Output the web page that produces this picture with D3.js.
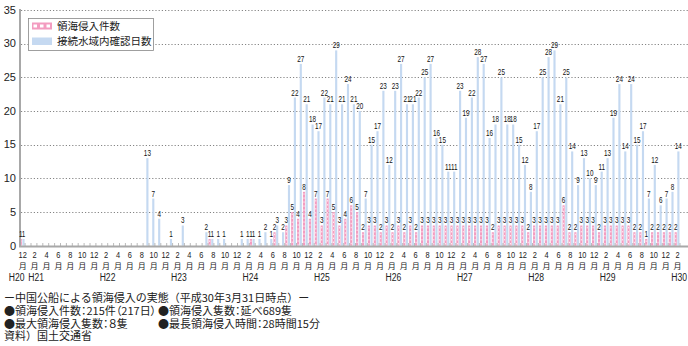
<!DOCTYPE html>
<html><head><meta charset="utf-8">
<script src="https://cdn.jsdelivr.net/npm/d3@7"></script>
<style>
body{margin:0;background:#fff;}
svg{display:block;}
.palt{font-feature-settings:"palt" 1;}
</style></head><body>
<svg id="c" width="688" height="346"></svg>
<script>
// Months Dec 2008 (H20) .. Mar 2018 (H30)
const categories = [
"2008-12",
"2009-01","2009-02","2009-03","2009-04","2009-05","2009-06","2009-07","2009-08","2009-09","2009-10","2009-11","2009-12",
"2010-01","2010-02","2010-03","2010-04","2010-05","2010-06","2010-07","2010-08","2010-09","2010-10","2010-11","2010-12",
"2011-01","2011-02","2011-03","2011-04","2011-05","2011-06","2011-07","2011-08","2011-09","2011-10","2011-11","2011-12",
"2012-01","2012-02","2012-03","2012-04","2012-05","2012-06","2012-07","2012-08","2012-09","2012-10","2012-11","2012-12",
"2013-01","2013-02","2013-03","2013-04","2013-05","2013-06","2013-07","2013-08","2013-09","2013-10","2013-11","2013-12",
"2014-01","2014-02","2014-03","2014-04","2014-05","2014-06","2014-07","2014-08","2014-09","2014-10","2014-11","2014-12",
"2015-01","2015-02","2015-03","2015-04","2015-05","2015-06","2015-07","2015-08","2015-09","2015-10","2015-11","2015-12",
"2016-01","2016-02","2016-03","2016-04","2016-05","2016-06","2016-07","2016-08","2016-09","2016-10","2016-11","2016-12",
"2017-01","2017-02","2017-03","2017-04","2017-05","2017-06","2017-07","2017-08","2017-09","2017-10","2017-11","2017-12",
"2018-01","2018-02","2018-03"];

// 領海侵入件数
const intrusions = [
1,
0,0,0,0,0,0,0,0,0,0,0,0,
0,0,0,0,0,0,0,0,0,0,0,0,
0,0,0,0,0,0,0,1,0,0,0,0,
0,0,1,0,0,0,2,0,3,5,4,8,
4,7,3,7,5,3,4,6,5,2,3,3,
2,3,2,3,2,3,2,3,3,3,3,3,
3,3,3,3,3,3,3,2,3,3,3,3,
3,2,3,3,3,3,3,6,2,2,3,3,
3,2,3,3,3,3,3,2,2,1,2,2,
2,2,2];

// 接続水域内確認日数
const contiguous = [
1,
0,0,0,0,0,0,0,0,0,0,0,0,
0,0,0,0,0,0,0,0,13,7,4,0,
1,0,3,0,0,0,2,1,1,1,0,0,
1,1,1,1,2,1,3,2,9,22,27,21,
18,17,22,21,29,21,24,21,20,7,15,17,
23,12,23,27,21,21,22,25,27,16,15,11,
11,23,19,22,28,27,16,18,25,18,18,15,
12,8,17,25,28,29,21,25,14,9,13,10,
9,11,13,19,24,14,24,15,17,7,12,6,
7,8,14];

const yTicks = [0,5,10,15,20,25,30,35];
const yearLabels = [["2008-12","H20"],["2009-02","H21"],["2010-02","H22"],["2011-02","H23"],["2012-02","H24"],["2013-02","H25"],["2014-02","H26"],["2015-02","H27"],["2016-02","H28"],["2017-02","H29"],["2018-02","H30"]];
const seriesNames = ["領海侵入件数","接続水域内確認日数"];
const footer = [
 ["ー中国公船による領海侵入の実態（平成30年3月31日時点）ー", null],
 ["●領海侵入件数：215件（217日）","●領海侵入隻数：延べ689隻"],
 ["●最大領海侵入隻数：８隻","●最長領海侵入時間：28時間15分"],
 ["資料）国土交通省", null]
];

const PINK = "#f39cc0", BLUE = "#c5d9f1";
const svg = d3.select("#c");
const jp = '"Noto Sans CJK JP","Noto Sans",sans-serif';
const num = '"Liberation Sans Narrow","Liberation Sans","DejaVu Sans",sans-serif';

const x = d3.scaleBand().domain(categories).range([19.2, 680.0]);
const xs = d3.scaleBand().domain(["p","b"]).range([0, x.bandwidth()]).paddingInner(0.2).paddingOuter(0.2);
const y = d3.scaleLinear().domain([0,35]).range([245.7, 10]);
// tick-label positions (labels are spaced slightly wider than bars in the original)
const xl = d3.scaleLinear().domain([0,110]).range([22.7,677.6]);
const idx = c => categories.indexOf(c);

// gridlines
svg.append("g").selectAll("line").data(yTicks.filter(d=>d>0)).join("line")
  .attr("x1",21).attr("x2",688).attr("y1",d=>Math.round(y(d))+0.5).attr("y2",d=>Math.round(y(d))+0.5)
  .attr("stroke","#777").attr("stroke-width",0.9).attr("stroke-dasharray","1.2,2");

// y tick labels
svg.append("g").selectAll("text").data(yTicks).join("text")
  .attr("x",16).attr("y",d=>y(d)+3.8).attr("text-anchor","end")
  .attr("font-family",num).attr("font-size",11).attr("fill","#222").text(d=>d);

// bars
const data = categories.map((c,i)=>({c, p:intrusions[i], b:contiguous[i]}));
const g = svg.append("g");
g.selectAll("rect.b").data(data.filter(d=>d.b>0)).join("rect").attr("class","b")
  .attr("x",d=>x(d.c)+xs("b")).attr("width",xs.bandwidth())
  .attr("y",d=>y(d.b)).attr("height",d=>y(0)-y(d.b)).attr("fill",BLUE);
g.selectAll("rect.p").data(data.filter(d=>d.p>0)).join("rect").attr("class","p")
  .attr("x",d=>x(d.c)+xs("p")).attr("width",xs.bandwidth())
  .attr("y",d=>y(d.p)).attr("height",d=>y(0)-y(d.p)).attr("fill",PINK);
g.selectAll("line.p").data(data.filter(d=>d.p>0)).join("line").attr("class","p")
  .attr("x1",d=>x(d.c)+xs("p")+xs.bandwidth()/2).attr("x2",d=>x(d.c)+xs("p")+xs.bandwidth()/2)
  .attr("y1",d=>y(d.p)+1.5).attr("y2",y(0))
  .attr("stroke","#fff").attr("stroke-width",0.8).attr("stroke-dasharray","1.5,2.5");

// axes lines
svg.append("line").attr("x1",20).attr("x2",20).attr("y1",9).attr("y2",247).attr("stroke","#a8a8a8").attr("stroke-width",2);
svg.append("line").attr("x1",19).attr("x2",688).attr("y1",246.5).attr("y2",246.5).attr("stroke","#a8a8a8").attr("stroke-width",2);
svg.append("g").selectAll("line").data(categories).join("line")
  .attr("x1",d=>x(d)+x.bandwidth()).attr("x2",d=>x(d)+x.bandwidth())
  .attr("y1",243).attr("y2",246).attr("stroke","#a8a8a8").attr("stroke-width",0.8);

// value labels
const SX = 0.72;
const lab = svg.append("g").attr("transform",`scale(${SX},1)`)
  .attr("font-family",num).attr("font-size",8.8).attr("fill","#111").attr("text-anchor","middle");
lab.selectAll("text.b").data(data.filter(d=>d.b>0)).join("text")
  .attr("x",d=>(x(d.c)+xs("b")+xs.bandwidth()/2)/SX).attr("y",d=>y(d.b)-2).text(d=>d.b);
lab.selectAll("text.p").data(data.filter(d=>d.p>0)).join("text")
  .attr("x",d=>(x(d.c)+xs("p")+xs.bandwidth()/2)/SX).attr("y",d=>y(d.p)-2).text(d=>d.p);

// month labels (every 2 months)
const tickCats = categories.filter((c,i)=>i%2===0);
const MX = 0.78;
const mg = svg.append("g").attr("fill","#222").attr("text-anchor","middle");
mg.append("g").attr("transform",`scale(${MX},1)`).selectAll("text").data(tickCats).join("text")
  .attr("x",d=>xl(idx(d))/MX).attr("y",258).attr("font-family",num).attr("font-size",9.5)
  .text(d=>+d.slice(5));
mg.append("g").selectAll("text").data(tickCats).join("text")
  .attr("x",d=>xl(idx(d))).attr("y",268.5).attr("font-family",jp).attr("font-size",8)
  .text("月");
const YX = 0.78;
svg.append("g").attr("transform",`scale(${YX},1)`).selectAll("text").data(yearLabels).join("text")
  .attr("x",(d,i)=>(i===0 ? xl(idx(d[0]))-6 : xl(idx(d[0]))+1.5)/YX).attr("y",281).attr("text-anchor","middle")
  .attr("font-family",num).attr("font-size",11).attr("fill","#222").text(d=>d[1]);

// legend
const lg = svg.append("g");
lg.append("rect").attr("x",28.5).attr("y",18.5).attr("width",125).attr("height",32).attr("fill","#fff").attr("stroke","#888").attr("stroke-width",0.8);
lg.append("rect").attr("x",32).attr("y",22.5).attr("width",20).attr("height",7).attr("fill",PINK);
lg.selectAll("rect.w").data([0,1,2]).join("rect").attr("class","w")
  .attr("x",d=>33.5+d*6.5).attr("y",24.5).attr("width",3.5).attr("height",3).attr("fill","#fff");
lg.append("rect").attr("x",32).attr("y",37.5).attr("width",20).attr("height",7.5).attr("fill",BLUE);
lg.selectAll("text").data(seriesNames).join("text")
  .attr("x",57).attr("y",(d,i)=>29.5+i*15).attr("font-family",jp).attr("font-size",10.5).attr("fill","#222").text(d=>d);

// footer
const fy = [302,315,327.5,340];
const fg = svg.append("g").attr("font-family",jp).attr("font-size",11).attr("fill","#222");
footer.forEach((row,i)=>{
  fg.append("text").attr("class",i===1||i===2?"palt":null).attr("x",4).attr("y",fy[i]).text(row[0]);
  if(row[1]) fg.append("text").attr("class","palt").attr("x",158).attr("y",fy[i]).text(row[1]);
});
</script>
</body></html>
